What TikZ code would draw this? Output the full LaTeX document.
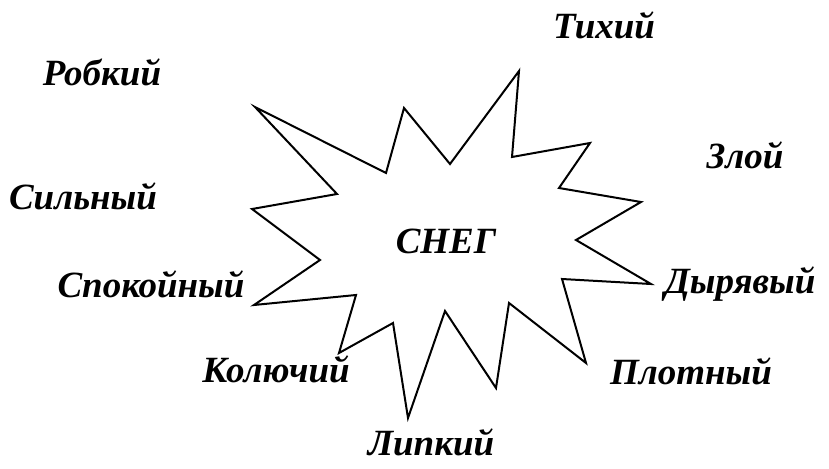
\documentclass[tikz,border=0pt]{standalone}
\usepackage{fontspec}
\setmainfont{Liberation Serif}
\begin{document}
\begin{tikzpicture}[x=1pt,y=-1pt,
  word/.style={font=\fontsize{37}{42}\selectfont\bfseries\itshape, inner sep=0pt, anchor=center},
  starline/.style={draw=black, line width=2pt, line join=miter}]
\useasboundingbox (0,0) rectangle (829,468);
\draw[starline] (255,107) -- (386,173) -- (404,108) -- (450,164) -- (519,71) -- (512,157)
  -- (590,143) -- (559,188) -- (641,202) -- (576,240) -- (651,284) -- (562,279)
  -- (586,363) -- (509,303) -- (496,388) -- (445,311) -- (408,418) -- (393,323)
  -- (339,353) -- (356,295) -- (254,305) -- (320,260) -- (252,209) -- (337,194) -- cycle;
\node[word] (sneg) at (446,241) {СНЕГ};
\node[word] (tihiy) at (604,25) {Тихий};
\node[word] (robkiy) at (102,72) {Робкий};
\node[word] (zloy) at (745,155) {Злой};
\node[word] (silny) at (83,196) {Сильный};
\node[word] (spokoyny) at (151,284) {Спокойный};
\node[word] (dyryavy) at (740,284) {Дырявый};
\node[word] (koluchiy) at (276,369) {Колючий};
\node[word] (plotny) at (691,371) {Плотный};
\node[word] (lipkiy) at (431,442) {Липкий};
\end{tikzpicture}
\end{document}
